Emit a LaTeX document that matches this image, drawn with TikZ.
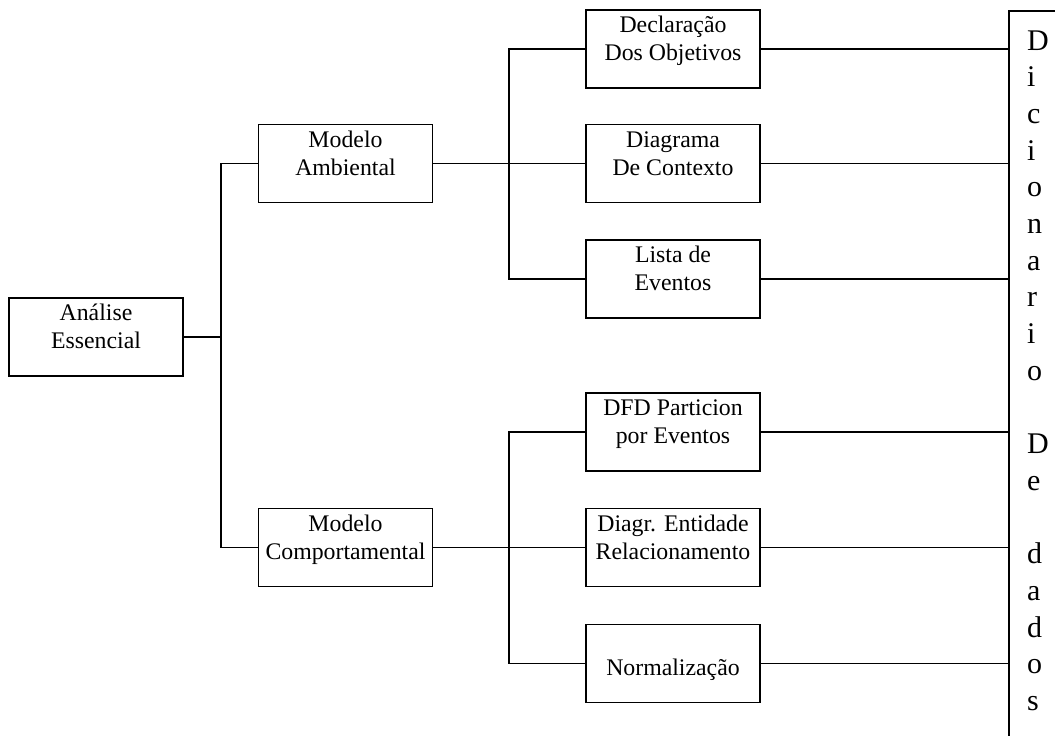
\documentclass[tikz,border=0pt]{standalone}
\usepackage{fontspec}
\setmainfont{Liberation Serif}
\begin{document}
\begin{tikzpicture}[x=1pt,y=-1pt,
  box/.style={draw, line width=1.6pt, minimum width=174pt, minimum height=78pt, inner sep=0pt},
  lbl/.style={align=center, font=\fontsize{23.8}{28}\selectfont, inner sep=0pt},
  wire/.style={line width=1.8pt}]
\path[use as bounding box] (0,0) rectangle (1055,736);
\clip (0,0) rectangle (1055,736);

% boxes
\node[box] (ana)   at (96,337)    {};
\node[box] (amb)   at (345.5,163.5) {};
\node[box] (comp)  at (345.5,547.5) {};
\node[box] (decl)  at (673,49)    {};
\node[box] (diag)  at (673,163.5) {};
\node[box] (lista) at (673,279)   {};
\node[box] (dfd)   at (673,432)   {};
\node[box] (der)   at (673,547.5) {};
\node[box] (norm)  at (673,663.5) {};

% box captions
\node[lbl] (tana)   at ([yshift=8pt]ana.center)   {\strut Análise\\\strut Essencial};
\node[lbl] (tamb)   at ([yshift=8pt]amb.center)   {\strut Modelo\\\strut Ambiental};
\node[lbl] (tcomp)  at ([yshift=8pt]comp.center)  {\strut Modelo\\\strut Comportamental};
\node[lbl] (tdecl)  at ([yshift=8pt]decl.center)  {\strut Declaração\\\strut Dos Objetivos};
\node[lbl] (tdiag)  at ([yshift=8pt]diag.center)  {\strut Diagrama\\\strut De Contexto};
\node[lbl] (tlista) at ([yshift=8pt]lista.center) {\strut Lista de\\\strut Eventos};
\node[lbl] (tdfd)   at ([yshift=8pt]dfd.center)   {\strut DFD Particion\\\strut por Eventos};
\node[lbl] (tder)   at ([yshift=8pt]der.center)   {\strut Diagr. Entidade\\\strut Relacionamento};
\node[lbl] (tnorm)  at ([yshift=8pt]norm.center)  {\strut\\\strut Normalização};

% data dictionary column
\node[draw, line width=1.6pt, anchor=north west, minimum width=100pt, minimum height=800pt, inner sep=0pt] (dic) at (1008,10) {};
\node[anchor=base west, inner sep=0pt, font=\fontsize{30}{36.7}\selectfont] (dictxt) at (1027,50)
  {\vtop{\baselineskip=36.7pt\hbox{D}\hbox{i}\hbox{c}\hbox{i}\hbox{o}\hbox{n}\hbox{a}\hbox{r}\hbox{i}\hbox{o}\hbox{}\hbox{D}\hbox{e}\hbox{}\hbox{d}\hbox{a}\hbox{d}\hbox{o}\hbox{s}}};

% junctions
\coordinate (jl) at (221,337);
\coordinate (ju) at (509,163.5);
\coordinate (jb) at (509,547.5);

% tree connectors
\draw[wire] (ana.east) -- (jl);
\draw[wire] (amb.west) -| (jl) |- (comp.west);
\draw[wire] (amb.east) -- (diag.west);
\draw[wire] (decl.west) -| (ju) |- (lista.west);
\draw[wire] (comp.east) -- (der.west);
\draw[wire] (dfd.west) -| (jb) |- (norm.west);

% links to the dictionary
\foreach \b in {decl,diag,lista,dfd,der,norm}
  \draw[wire] (\b.east) -- (\b.east -| dic.west);
\end{tikzpicture}
\end{document}
